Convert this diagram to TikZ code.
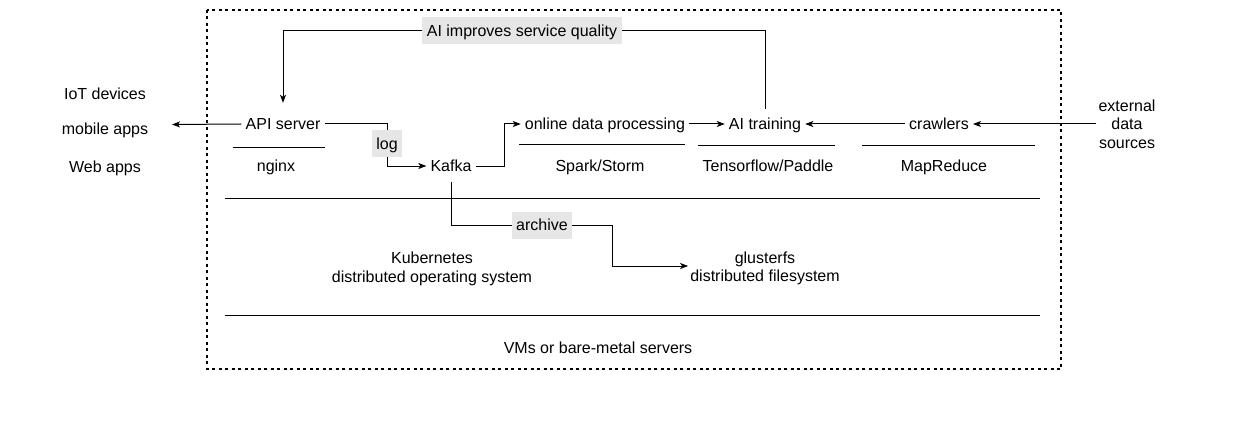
\documentclass[tikz,border=0pt]{standalone}
\usepackage{fontspec}
\setmainfont{Liberation Sans}
\usetikzlibrary{arrows.meta}
\definecolor{labelGray}{HTML}{E6E6E6}

\begin{document}
\begin{tikzpicture}[x=1pt, y=-1pt,
  every node/.style={font=\fontsize{16}{18.5}\selectfont},
  txt/.style={inner ysep=2pt, inner xsep=4pt, text height=12pt, text depth=1pt},
  stack/.style={inner sep=2pt, align=center},
  graybox/.style={txt, fill=labelGray, inner xsep=4.5pt, minimum height=27pt},
  link/.style={black, line width=1pt},
  arr/.style={link, -{Stealth[length=8pt, width=6pt, inset=2pt]}}]
  \useasboundingbox (0,0) rectangle (1233,441);
  \draw [black, line width=1.6pt, dash pattern=on 3pt off 3.5pt] (207,10) rectangle (1061,369);

  % clients and sources outside the box
  \node [txt] (iot) at (105,94) {IoT devices};
  \node [txt] (mobile) at (105,129) {mobile apps};
  \node [txt] (web) at (105,166.5) {Web apps};
  \coordinate (clients) at (172,124.5);
  \node [stack] (ext) at (1127,124) {external\\data\\sources};

  % applications layer
  \node [txt] (api) at (283,124) {API server};
  \node [txt] (nginx) at (276,166) {nginx};
  \node [txt] (kafka) at (451,166) {Kafka};
  \node [txt] (online) at (605,124) {online data processing};
  \node [txt] (spark) at (600,166) {Spark/Storm};
  \node [txt] (train) at (765,124) {AI training};
  \node [txt] (tf) at (768,166) {Tensorflow/Paddle};
  \node [txt] (crawlers) at (939,124) {crawlers};
  \node [txt] (mapred) at (944,166) {MapReduce};

  \draw [link] (233,147) -- (325,147);
  \draw [link] (519,144) -- (685,144);
  \draw [link] (698,145) -- (835,145);
  \draw [link] (862,145) -- (1035,145);

  % system layers
  \draw [link] (225,198) -- (1040,198);
  \node [stack] (kube) at (432,269) {Kubernetes\\distributed operating system};
  \node [stack] (gluster) at (765,268.5) {glusterfs\\distributed filesystem};
  \draw [link] (225,315) -- (1040,315);
  \node [txt] (vms) at (598,348) {VMs or bare-metal servers};

  % data flow
  \draw [arr] (api.west) -- (clients);
  \draw [link] (api.east) -| (387,143.5);
  \draw [arr] (387,143.5) |- (kafka.west);
  \node [graybox] (log) at (387,143.5) {log};
  \draw [arr] (kafka.east) -- ++(29,0) |- (online.west);
  \draw [arr] (online.east) -- (train.west);
  \draw [arr] (crawlers.west) -- (train.east);
  \draw [arr] (ext.west |- crawlers.east) -- (crawlers.east);

  \node [graybox] (aiq) at (522,31) {AI improves service quality};
  \draw [arr, shorten >=12.5pt] (aiq.west) -| (api.north);
  \draw [link, shorten <=6.5pt] (train.north) |- (aiq.east);

  \node [graybox] (archive) at (542,225) {archive};
  \draw [link, shorten <=7.5pt] (kafka.south) |- (archive.west);
  \draw [arr] (archive.east) -- ++(40,0) |- ([yshift=2.5pt]gluster.west);
\end{tikzpicture}
\end{document}
